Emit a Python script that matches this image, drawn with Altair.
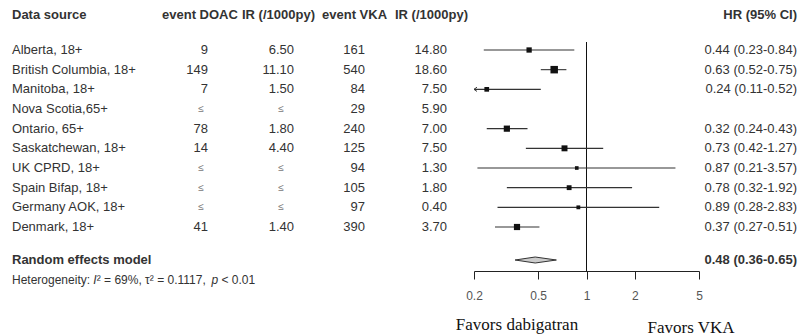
import altair as alt
import pandas as pd

# ---------------- data ----------------
studies = ["Alberta, 18+", "British Columbia, 18+", "Manitoba, 18+", "Nova Scotia,65+",
           "Ontario, 65+", "Saskatchewan, 18+", "UK CPRD, 18+", "Spain Bifap, 18+",
           "Germany AOK, 18+", "Denmark, 18+"]
event_doac = ["9", "149", "7", None, "78", "14", None, None, None, "41"]
ir_doac = ["6.50", "11.10", "1.50", None, "1.80", "4.40", None, None, None, "1.40"]
event_vka = ["161", "540", "84", "29", "240", "125", "94", "105", "97", "390"]
ir_vka = ["14.80", "18.60", "7.50", "5.90", "7.00", "7.50", "1.30", "1.80", "0.40", "3.70"]
hr = [0.44, 0.63, 0.24, None, 0.32, 0.73, 0.87, 0.78, 0.89, 0.37]
hr_lo = [0.23, 0.52, 0.11, None, 0.24, 0.42, 0.21, 0.32, 0.28, 0.27]
hr_hi = [0.84, 0.75, 0.52, None, 0.43, 1.27, 3.57, 1.92, 2.83, 0.51]
weight = [9.5, 19.0, 7.5, None, 13.0, 12.0, 4.5, 8.0, 5.0, 13.0]
pooled = {"hr": 0.48, "lo": 0.36, "hi": 0.65}
x_ticks = [0.2, 0.5, 1, 2, 5]
headers = ["Data source", "event DOAC", "IR (/1000py)", "event VKA", "IR (/1000py)", "HR (95% CI)"]
pooled_label = "Random effects model"
het_parts = ["Heterogeneity:", "I", "\u00b2 = 69%, \u03c4\u00b2 = 0.1117,", "p", "< 0.01"]
het_italic = [False, True, False, True, False]
favors = ["Favors dabigatran", "Favors VKA"]

# ---------------- layout ----------------
W, H = 806, 271
ROW0_PX, ROWN_PX = 50, 227
n = len(studies)
step = (ROWN_PX - ROW0_PX) / (n - 1)


def row_of(px):
    return (px - ROW0_PX) / step


HEADER_ROW = row_of(14.5)
POOLED_ROW = row_of(260)
HET_ROW = row_of(280)
FONT = "Liberation Sans"
TXT = "#333333"
HET_SIZE = 12
# advance (em) of each heterogeneity piece including the following space
HET_EM = [6.781, 0.278, 9.557, 0.834, 3.0]


def fmt_hr(h, l, u):
    return f"{h:.2f} ({l:.2f}-{u:.2f})"


rows = []
for i in range(n):
    ok = hr[i] is not None
    rows.append({
        "row": i,
        "study": studies[i],
        "ev_doac": event_doac[i] or "",
        "ir_doac": ir_doac[i] or "",
        "sup_doac": "" if event_doac[i] else "\u2264",
        "sup_ir": "" if ir_doac[i] else "\u2264",
        "ev_vka": event_vka[i],
        "ir_vka": ir_vka[i],
        "hr_txt": fmt_hr(hr[i], hr_lo[i], hr_hi[i]) if ok else "",
    })
df = pd.DataFrame(rows)

frows = []
for i in range(n):
    if hr[i] is not None:
        frows.append({"row": i, "hr": hr[i], "lo": hr_lo[i], "hi": hr_hi[i], "w": weight[i]})
fdf = pd.DataFrame(frows)

yscale = alt.Scale(domain=[0, n - 1], range=[ROW0_PX, ROWN_PX], zero=False, nice=False)
xscale = alt.Scale(type="log", domain=[x_ticks[0], x_ticks[-1]], range=[474, 699],
                   nice=False, clamp=True)
XAX = alt.Axis(values=x_ticks, title=None, grid=False, orient="bottom",
               labelFont=FONT, labelFontSize=12, labelColor="#555555",
               domainColor="#222222", tickColor="#222222", tickSize=8,
               labelPadding=11, domainWidth=1, tickWidth=1, labelFlush=False)


def Yf(field="row"):
    return alt.Y(f"{field}:Q", scale=yscale, axis=None)


def Xf(field):
    return alt.X(f"{field}:Q", scale=xscale, axis=XAX)


def text_layer(data, field, xpx, align="right", color=TXT, size=13, weight="normal",
               style="normal"):
    return alt.Chart(data).mark_text(align=align, baseline="middle", font=FONT, fontSize=size,
                                     color=color, fontWeight=weight, fontStyle=style).encode(
        x=alt.value(xpx), y=Yf(), text=alt.Text(f"{field}:N"))


layers = []

# reference line at HR = 1
ref = pd.DataFrame({"x": [1], "y": [row_of(42)], "y2": [row_of(H)]})
layers.append(alt.Chart(ref).mark_rule(color="#111111", strokeWidth=1).encode(
    x=Xf("x"), y=Yf("y"), y2="y2:Q"))

# CI lines
layers.append(alt.Chart(fdf).mark_rule(color="#333333", strokeWidth=1.1).encode(
    x=Xf("lo"), x2="hi:Q", y=Yf()))
# arrow for clipped lower limit
layers.append(alt.Chart(fdf).transform_filter(f"datum.lo < {x_ticks[0]}").mark_point(
    shape="M0,0L1,-0.7M0,0L1,0.7", filled=False, size=36, color="#333333",
    strokeWidth=1, opacity=1).encode(x=Xf("lo"), y=Yf()))
# squares
layers.append(alt.Chart(fdf).mark_point(shape="square", filled=True, color="#111111",
                                        opacity=1).encode(
    x=Xf("hr"), y=Yf(),
    size=alt.Size("w:Q", scale=alt.Scale(domain=[0, 19], range=[0, 56]), legend=None)))

# pooled diamond
half = 3.0 / step
dia = pd.DataFrame({
    "x": [pooled["lo"], pooled["hr"], pooled["hi"]],
    "y": [POOLED_ROW, POOLED_ROW - half, POOLED_ROW],
    "y2": [POOLED_ROW, POOLED_ROW + half, POOLED_ROW],
})
layers.append(alt.Chart(dia).mark_area(color="#cccccc", stroke="#333333", strokeWidth=1,
                                       opacity=1).encode(
    x=Xf("x"), y=Yf("y"), y2="y2:Q"))

# table text
layers.append(text_layer(df, "study", 12, align="left"))
layers.append(text_layer(df, "ev_doac", 208))
layers.append(text_layer(df, "sup_doac", 201, align="center", color="#777777", size=10))
layers.append(text_layer(df, "ir_doac", 294))
layers.append(text_layer(df, "sup_ir", 281, align="center", color="#777777", size=10))
layers.append(text_layer(df, "ev_vka", 365))
layers.append(text_layer(df, "ir_vka", 447))
layers.append(text_layer(df, "hr_txt", 797))

# header
hdr_pos = [(12, "left"), (162, "left"), (242, "left"), (322, "left"), (395, "left"), (797, "right")]
for txt, (xp, al) in zip(headers, hdr_pos):
    layers.append(text_layer(pd.DataFrame({"t": [txt], "row": [HEADER_ROW]}), "t", xp,
                             align=al, weight="bold"))

pdf = pd.DataFrame({"row": [POOLED_ROW], "lab": [pooled_label],
                    "hr_txt": [fmt_hr(pooled["hr"], pooled["lo"], pooled["hi"])]})
layers.append(text_layer(pdf, "lab", 12, align="left", weight="bold"))
layers.append(text_layer(pdf, "hr_txt", 797, weight="bold"))

# heterogeneity line, italic I and p
xh = 12.0
for part, it, em in zip(het_parts, het_italic, HET_EM):
    layers.append(text_layer(pd.DataFrame({"row": [HET_ROW], "t": [part]}), "t", xh,
                             align="left", size=HET_SIZE, style="italic" if it else "normal"))
    xh += em * HET_SIZE

# favors labels
for txt, xp, yp in zip(favors, [517, 691], [325, 328]):
    layers.append(alt.Chart(pd.DataFrame({"t": [txt]})).mark_text(
        align="center", baseline="middle", font="Liberation Serif", fontSize=17, color="#111111"
    ).encode(x=alt.value(xp), y=alt.value(yp), text="t:N"))

chart = alt.layer(*layers).properties(
    width=W, height=H,
    autosize=alt.AutoSizeParams(type="none"),
    padding={"left": 0, "top": 0, "right": 0, "bottom": 336 - H},
).configure_view(stroke=None)

chart.save("out.html", embed_options={"renderer": "svg", "actions": False})
